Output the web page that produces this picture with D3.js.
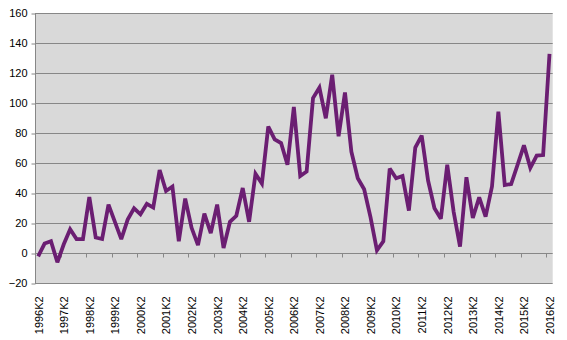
<!DOCTYPE html>
<html><head><meta charset="utf-8">
<script src="https://cdn.jsdelivr.net/npm/d3@7"></script>
<style>body{margin:0;background:#fff}svg{display:block}text{font-family:"Liberation Sans",Arial,sans-serif;font-size:11px;fill:#000}</style>
</head><body><div id="chart"></div>
<script>
// Quarterly series, 1996K2 .. 2016K2
const startYear = 1996, startQuarter = 2;
const values = [
  -2, 6.5, 8, -6, 6, 16, 9.5, 9.5, 37.5, 10.5, 9.5, 32.5, 21, 9.5, 22.5, 30,
  26, 33, 30.5, 55.5, 41.5, 44.5, 8, 36.5, 17, 5.5, 26.5, 13.5, 32.5, 3.5, 21, 25,
  43.5, 21, 53, 46.5, 84.5, 76, 73.5, 59, 97.5, 51.5, 54.5, 103.5, 110.5, 90, 119, 78,
  107.2, 67.7, 50, 42.7, 24, 2, 8, 56.5, 50, 51.5, 28.5, 70.5, 78.5, 48.5,
  30, 23, 59, 27.7, 4.5, 50.7, 23.5, 37.3, 24.5, 44.5, 94.5, 45.5, 46.2, 59, 72,
  57, 65.2, 65.5, 133
];
const categories = values.map((_, i) => {
  const q = startQuarter - 1 + i;
  return (startYear + Math.floor(q / 4)) + "K" + (q % 4 + 1);
});
const yTicks = [-20, 0, 20, 40, 60, 80, 100, 120, 140, 160];
const labelEvery = 4;

const W = 567, H = 340;
const m = {left: 35, right: 14.3, top: 13.3, bottom: 56.7};
const svg = d3.select("#chart").append("svg").attr("width", W).attr("height", H);

const x = d3.scaleBand().domain(categories).range([m.left, W - m.right]).paddingInner(0).paddingOuter(0);
const y = d3.scaleLinear().domain([-20, 160]).range([H - m.bottom, m.top]);
const cx = d => x(d) + x.bandwidth() / 2;

// plot background
svg.append("rect").attr("x", m.left).attr("y", m.top)
  .attr("width", W - m.left - m.right).attr("height", H - m.top - m.bottom)
  .attr("fill", "#d9d9d9");

// gridlines
svg.append("g").selectAll("line").data(yTicks).join("line")
  .attr("x1", m.left).attr("x2", W - m.right)
  .attr("y1", d => Math.round(y(d)) + 0.5).attr("y2", d => Math.round(y(d)) + 0.5)
  .attr("stroke", "#878787").attr("stroke-width", 1);

// y axis
const yAxis = svg.append("g").attr("transform", `translate(${m.left + 0.5},0)`)
  .call(d3.axisLeft(y).tickValues(yTicks).tickSize(4).tickPadding(4).tickFormat(d3.format("d")));
yAxis.select(".domain").attr("stroke", "#878787").attr("d", `M0,${m.top}V${H - m.bottom + 0.5}`);
yAxis.selectAll(".tick line").attr("stroke", "#878787").attr("transform", d => `translate(0,${Math.round(y(d)) + 0.5 - y(d)})`);
yAxis.selectAll(".tick text").style("font-family", '"Liberation Sans",Arial,sans-serif').style("font-size", "11px").attr("fill", "#000");

// x axis at zero: tick marks at boundaries every 4 categories
const y0 = Math.round(y(0)) + 0.5;
const tickIdx = d3.range(labelEvery, categories.length, labelEvery);
svg.append("g").selectAll("line").data(tickIdx).join("line")
  .attr("x1", i => Math.round(x(categories[i])) + 0.5).attr("x2", i => Math.round(x(categories[i])) + 0.5)
  .attr("y1", y0).attr("y2", y0 + 4).attr("stroke", "#878787");

// x labels
const labelIdx = d3.range(0, categories.length, labelEvery);
svg.append("g").selectAll("text").data(labelIdx).join("text")
  .attr("transform", i => `translate(${cx(categories[i]) + 0.5},${H - m.bottom + 13}) rotate(-90)`)
  .attr("text-anchor", "end").attr("dy", "0.35em")
  .text(i => categories[i]);

// line
const line = d3.line().x((d, i) => cx(categories[i])).y(d => y(d));
svg.append("path").datum(values).attr("d", line)
  .attr("fill", "none").attr("stroke", "#6b1e72").attr("stroke-width", 3.8)
  .attr("stroke-linejoin", "miter").attr("stroke-miterlimit", 3);
</script></body></html>
